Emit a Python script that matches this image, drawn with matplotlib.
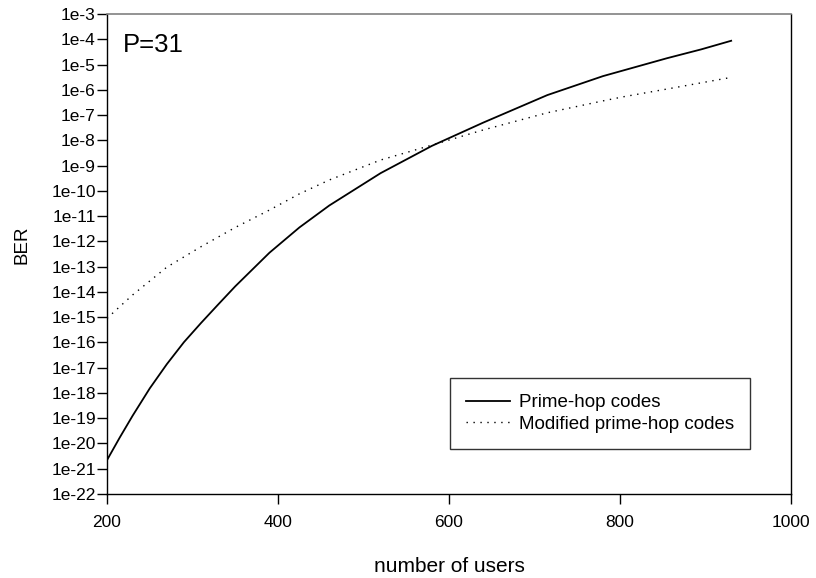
import numpy as np
import matplotlib
matplotlib.use("Agg")
import matplotlib.pyplot as plt

plt.rcParams['font.family'] = ['Liberation Sans', 'DejaVu Sans']

# Prime-hop codes (solid), values as log10(BER)
users_prime = [200, 215, 230, 250, 270, 290, 310, 330, 350, 390, 425, 460,
               520, 580, 640, 715, 780, 855, 895, 930]
log_ber_prime = [-20.66, -19.76, -18.9, -17.82, -16.86, -15.99, -15.23, -14.5,
                 -13.78, -12.45, -11.45, -10.58, -9.30, -8.22, -7.30, -6.21,
                 -5.46, -4.75, -4.40, -4.06]

# Modified prime-hop codes (dotted)
users_mod = [200, 215, 230, 270, 310, 350, 390, 425, 460, 520, 580, 640,
             715, 780, 805, 855, 930]
log_ber_mod = [-15.05, -14.58, -14.12, -13.02, -12.21, -11.45, -10.76, -10.12,
               -9.57, -8.78, -8.19, -7.59, -6.91, -6.44, -6.27, -5.97, -5.51]

y_exponents = list(range(-22, -2))
x_ticks = [200, 400, 600, 800, 1000]

fig = plt.figure(figsize=(8.16, 5.78), dpi=100)
ax = fig.add_axes([0.1311, 0.1453, 0.8383, 0.8305])

ax.plot(users_prime, 10.0 ** np.array(log_ber_prime), color='black', lw=1.3,
        label='Prime-hop codes')
ax.plot(users_mod, 10.0 ** np.array(log_ber_mod), color='black', lw=1.0,
        linestyle=(0, (1, 4)), label='Modified prime-hop codes')

ax.set_yscale('log')
ax.set_xlim(200, 1000)
ax.set_ylim(1e-22, 1e-3)
ax.set_yticks([10.0 ** e for e in y_exponents])
ax.set_yticklabels(['1e%d' % e for e in y_exponents])
ax.yaxis.set_minor_locator(matplotlib.ticker.NullLocator())
ax.set_xticks(x_ticks)
ax.set_xticklabels([str(v) for v in x_ticks])

ax.tick_params(axis='both', direction='out', length=7, width=1, labelsize=12.5,
               top=False, right=False)
ax.tick_params(axis='y', pad=1)
ax.tick_params(axis='x', pad=8)

for side in ['left', 'bottom', 'right']:
    ax.spines[side].set_color('black')
    ax.spines[side].set_linewidth(1)
ax.spines['top'].set_color('#808080')
ax.spines['top'].set_linewidth(1.2)

ax.set_xlabel('number of users', fontsize=15)
ax.xaxis.set_label_coords(0.5, -0.132)
ax.set_ylabel('BER', fontsize=13.5)
ax.yaxis.set_label_coords(-0.112, 0.519)

ax.text(0.0234, 0.9208, 'P=31', transform=ax.transAxes, fontsize=18.5,
        ha='left', va='baseline')

leg = ax.legend(loc='lower right', bbox_to_anchor=(0.94, 0.094), fontsize=13.5,
                frameon=True, fancybox=False, borderpad=0.85, handlelength=2.35,
                labelspacing=0.25, handletextpad=0.48, borderaxespad=0)
leg.get_frame().set_edgecolor('black')
leg.get_frame().set_linewidth(1)

fig.savefig('out.png', dpi=100)
